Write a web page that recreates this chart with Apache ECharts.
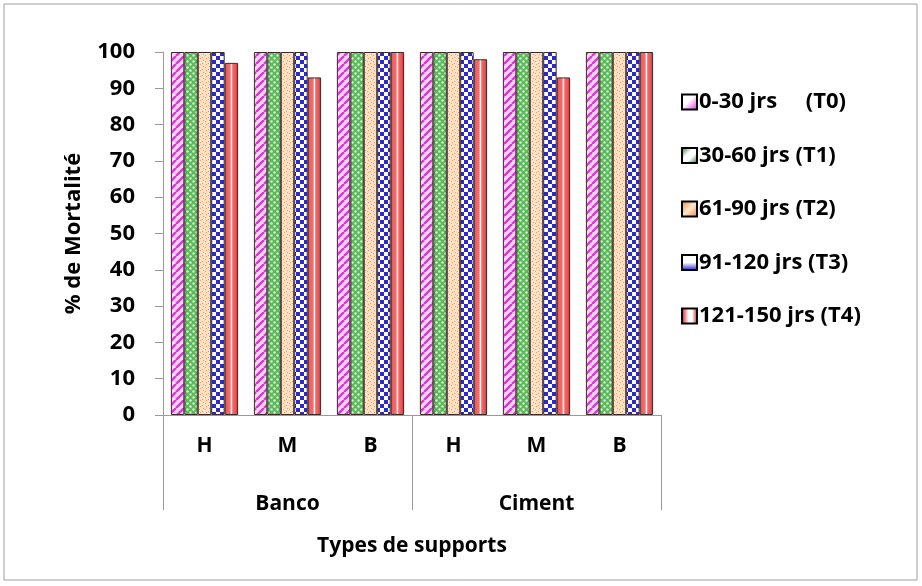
<!DOCTYPE html>
<html><head><meta charset="utf-8">
<script src="https://cdn.jsdelivr.net/npm/echarts@6/dist/echarts.min.js"></script>
<style>html,body{margin:0;padding:0;background:#fff}#c{width:922px;height:586px}</style>
</head><body><div id="c"></div>
<script>
var supports = ['H','M','B','H','M','B'];
var groups = ['Banco','Ciment'];
var seriesNames = ['0-30 jrs     (T0)','30-60 jrs (T1)','61-90 jrs (T2)','91-120 jrs (T3)','121-150 jrs (T4)'];
var T0 = [100,100,100,100,100,100];
var T1 = [100,100,100,100,100,100];
var T2 = [100,100,100,100,100,100];
var T3 = [100,100,100,100,100,100];
var T4 = [97,93,100,98,93,100];
var yTicks = {min:0,max:100,interval:10};

function mk(w,h,draw){var c=document.createElement('canvas');c.width=w;c.height=h;var g=c.getContext('2d');draw(g,w,h);return c;}
var pStripe = mk(8,8,function(g){g.fillStyle='#fbd4f6';g.fillRect(0,0,8,8);g.strokeStyle='#d040d0';g.lineWidth=2.5;
  for(var k=-8;k<=16;k+=8){g.beginPath();g.moveTo(k,8);g.lineTo(k+8,0);g.stroke();}});
var pDots = mk(6,6,function(g){g.fillStyle='#5cb85c';g.fillRect(0,0,6,6);g.fillStyle='#d8f0d0';
  g.beginPath();g.arc(1.5,1.5,1.2,0,7);g.fill();g.beginPath();g.arc(4.5,4.5,1.2,0,7);g.fill();});
var pSpeck = mk(6,6,function(g){g.fillStyle='#fbe0c4';g.fillRect(0,0,6,6);g.fillStyle='#f0a060';
  g.fillRect(1,1,1,1);g.fillRect(4,3,1,1);g.fillRect(2,4,1,1);g.fillRect(5,0,1,1);});
var pCheck = mk(8,8,function(g){g.fillStyle='#ffffff';g.fillRect(0,0,8,8);g.fillStyle='#2a2ad0';
  g.fillRect(0,0,4,4);g.fillRect(4,4,4,4);});
var redGrad = new echarts.graphic.LinearGradient(0,0,1,0,[
  {offset:0,color:'#c03030'},{offset:0.15,color:'#f06060'},{offset:0.4,color:'#f46a6a'},
  {offset:0.5,color:'#ffffff'},{offset:0.6,color:'#f46a6a'},{offset:0.85,color:'#e85050'},{offset:1,color:'#a02020'}]);

var fills = [
  {image:pStripe,repeat:'repeat'},
  {image:pDots,repeat:'repeat'},
  {image:pSpeck,repeat:'repeat'},
  {image:pCheck,repeat:'repeat'},
  redGrad
];
function lg(stops,x2,y2){return new echarts.graphic.LinearGradient(0,0,x2,y2,stops.map(function(s){return {offset:s[0],color:s[1]};}));}
var legendFills = [
  lg([[0,'#ffffff'],[0.45,'#ffffff'],[1,'#e020e0']],1,1),
  lg([[0,'#0a6a0a'],[0.4,'#ffffff'],[0.6,'#ffffff'],[1,'#0a6a0a']],1,1),
  lg([[0,'#f08030'],[0.5,'#ffe8d0'],[1,'#f08030']],1,1),
  lg([[0,'#ffffff'],[0.5,'#ffffff'],[1,'#1010d0']],0,1),
  lg([[0,'#e00000'],[0.45,'#ffffff'],[0.65,'#ffffff'],[1,'#e00000']],1,0)
];
var dataArr = [T0,T1,T2,T3,T4];
var font = '"Open Sans", "Liberation Sans", sans-serif';

var series = seriesNames.map(function(n,i){
  return {name:n,type:'bar',xAxisIndex:0,data:dataArr[i],barGap:'0%',barCategoryGap:'19%',
    itemStyle:{color:fills[i],borderColor:'#3a2a2a',borderWidth:1}};
});

var chart = echarts.init(document.getElementById('c'),null,{renderer:'canvas'});
chart.setOption({
  animation:false,
  backgroundColor:'#fff',
  textStyle:{fontFamily:font},
  grid:{left:163,right:261,top:52,bottom:171},
  legend:{orient:'vertical',left:676,top:86,itemGap:31.5,itemWidth:15,itemHeight:15,icon:'rect',
    textStyle:{fontFamily:font,fontWeight:'bold',fontSize:22,color:'#000',padding:[0,0,0,-3]},
    data:seriesNames.map(function(n,i){return {name:n,itemStyle:{color:legendFills[i],borderColor:'#000',borderWidth:2}};})},
  xAxis:[
    {type:'category',data:supports,position:'bottom',
      axisLine:{lineStyle:{color:'#999'}},axisTick:{show:false},
      axisLabel:{fontFamily:font,fontWeight:'bold',fontSize:21,color:'#000',margin:21}},
    {type:'category',data:groups,position:'bottom',
      axisLine:{show:false},axisTick:{show:true,length:95,lineStyle:{color:'#999'}},
      axisLabel:{fontFamily:font,fontWeight:'bold',fontSize:21,color:'#000',margin:79},
      name:'Types de supports',nameLocation:'middle',nameGap:121,nameMoveOverlap:false,
      nameTextStyle:{fontFamily:font,fontWeight:'bold',fontSize:21,color:'#000'}}
  ],
  yAxis:{type:'value',min:yTicks.min,max:yTicks.max,interval:yTicks.interval,
    name:'% de Mortalité',nameLocation:'middle',nameGap:78,nameMoveOverlap:false,
    nameTextStyle:{fontFamily:font,fontWeight:'bold',fontSize:22,color:'#000'},
    axisLine:{show:true,lineStyle:{color:'#999'}},axisTick:{show:true,length:8,lineStyle:{color:'#999'}},
    splitLine:{show:false},
    axisLabel:{fontFamily:font,fontWeight:'bold',fontSize:22,color:'#000',margin:28}},
  graphic:[{type:'rect',shape:{x:4,y:4,width:913,height:576},style:{fill:null,stroke:'#a0a0a0',lineWidth:1},silent:true}],
  series:series
});
</script></body></html>
